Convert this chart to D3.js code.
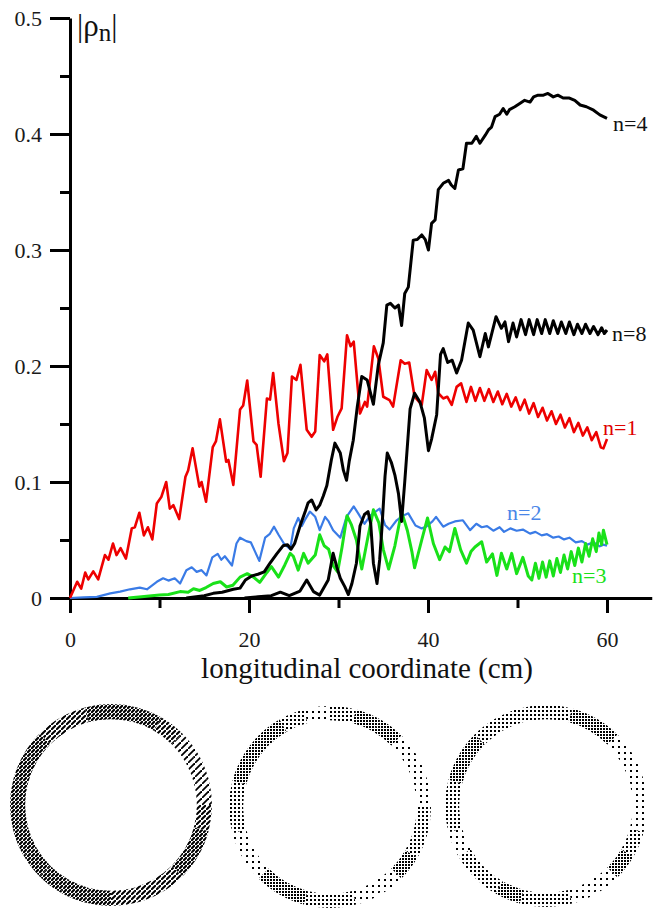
<!DOCTYPE html>
<html>
<head>
<meta charset="utf-8">
<script src="https://cdn.jsdelivr.net/npm/d3@7"></script>
<style>
body { margin: 0; background: #fff; }
svg { display: block; font-family: "Liberation Serif", "Times New Roman", serif; }
svg text { font-family: "Liberation Serif", "Times New Roman", serif; }
</style>
</head>
<body>
<div id="chart"></div>
<script>
// axis ticks
const xTicksMajor = [0, 20, 40, 60];
const xTicksMinor = [10, 30, 50];
const yTicksMajor = [0, 0.1, 0.2, 0.3, 0.4, 0.5];
const yTicksMinor = [0.05, 0.15, 0.25, 0.35, 0.45];

// |rho_n| vs longitudinal coordinate (cm)
const n1Pts = [[0,0],[0.8,0.014],[1.25,0.008],[1.7,0.022],[2.05,0.016],[2.6,0.023],[3.15,0.016],[3.9,0.037],[4.3,0.033],[4.8,0.047],[5.2,0.037],[5.65,0.043],[6.25,0.034],[6.9,0.06],[7.25,0.061],[7.75,0.0735],[8.25,0.054],[8.7,0.061],[9.2,0.0505],[9.7,0.0815],[10.2,0.087],[10.75,0.1],[11.15,0.077],[11.55,0.08],[12.2,0.068],[12.9,0.1045],[13.2,0.11],[13.7,0.129],[14.45,0.096],[14.7,0.1],[15.2,0.083],[15.95,0.13],[16.3,0.135],[16.75,0.154],[17.45,0.1175],[17.7,0.119],[18.25,0.0975],[19.0,0.1625],[19.35,0.166],[19.8,0.1875],[20.5,0.135],[20.85,0.132],[21.3,0.1045],[22.0,0.172],[22.35,0.171],[22.7,0.194],[23.3,0.15],[23.9,0.118],[24.3,0.125],[24.8,0.191],[25.3,0.188],[25.75,0.201],[26.45,0.145],[27.0,0.139],[27.4,0.1435],[27.9,0.2095],[28.4,0.204],[28.75,0.21],[29.4,0.145],[29.9,0.1565],[30.35,0.1635],[30.95,0.2265],[31.35,0.217],[31.7,0.221],[32.4,0.159],[32.95,0.169],[33.2,0.165],[33.95,0.217],[34.45,0.2065],[35.0,0.1735],[35.7,0.1705],[36.1,0.165],[36.95,0.205],[37.4,0.202],[37.9,0.203],[38.5,0.1735],[39.3,0.1665],[39.85,0.1965],[40.4,0.188],[40.8,0.195],[41.15,0.1765],[41.7,0.172],[42.15,0.1735],[42.65,0.1665],[43.2,0.182],[43.7,0.185],[44.3,0.169],[44.8,0.182],[45.3,0.17],[45.8,0.181],[46.3,0.17],[46.8,0.18],[47.3,0.169],[47.8,0.178],[48.3,0.167],[48.8,0.176],[49.3,0.165],[49.8,0.173],[50.3,0.162],[50.8,0.171],[51.3,0.159],[51.8,0.168],[52.3,0.156],[52.8,0.164],[53.3,0.153],[53.8,0.161],[54.3,0.15],[54.8,0.158],[55.3,0.147],[55.8,0.155],[56.3,0.143],[56.8,0.151],[57.3,0.14],[57.8,0.147],[58.3,0.136],[58.8,0.143],[59.3,0.13],[59.6,0.129],[60.0,0.137]];

const n2Pts = [[0,0],[1.5,0.0005],[3,0.001],[4.5,0.004],[5.6,0.0055],[6.7,0.0075],[7.8,0.009],[8.6,0.0075],[9.7,0.014],[10.4,0.017],[11.0,0.015],[11.7,0.017],[12.3,0.0125],[13.0,0.024],[13.6,0.0265],[14.15,0.0225],[14.7,0.024],[15.25,0.0195],[15.9,0.035],[16.5,0.038],[16.9,0.033],[17.3,0.036],[18.1,0.028],[18.6,0.047],[19.0,0.052],[19.7,0.049],[20.2,0.048],[21.15,0.032],[21.8,0.052],[22.3,0.055],[22.8,0.0615],[23.3,0.0545],[23.9,0.047],[24.6,0.042],[25.0,0.06],[25.5,0.069],[25.9,0.062],[26.3,0.068],[26.8,0.0745],[27.4,0.07],[27.9,0.0585],[28.5,0.07],[28.9,0.066],[29.4,0.0585],[30.2,0.052],[30.9,0.07],[31.7,0.079],[32.2,0.073],[32.9,0.064],[33.6,0.0715],[34.6,0.077],[35.2,0.063],[35.7,0.059],[36.5,0.067],[37.2,0.071],[37.8,0.073],[38.6,0.0625],[39.3,0.06],[39.8,0.0615],[40.5,0.066],[40.9,0.07],[41.7,0.0615],[42.3,0.064],[43.0,0.066],[43.9,0.067],[44.7,0.0585],[45.4,0.064],[46.0,0.061],[46.6,0.062],[47.3,0.058],[48.0,0.061],[48.5,0.057],[49.2,0.06],[49.9,0.058],[50.6,0.059],[51.4,0.0555],[52.0,0.057],[52.7,0.054],[53.3,0.055],[54.0,0.052],[54.6,0.053],[55.2,0.0505],[55.8,0.052],[56.5,0.048],[57.2,0.049],[57.8,0.046],[58.5,0.048],[59.2,0.0445],[59.6,0.046],[60.0,0.045]];

const n3Pts = [[6.5,0],[8,0.001],[10,0.0025],[11,0.003],[12.3,0.0055],[13.2,0.005],[13.8,0.008],[14.5,0.0065],[15.2,0.009],[16.0,0.0125],[16.8,0.014],[17.5,0.0095],[18.2,0.011],[19.0,0.018],[19.8,0.021],[20.5,0.018],[21.2,0.0135],[22.0,0.022],[22.5,0.027],[23.3,0.018],[24.0,0.0285],[24.6,0.0385],[24.95,0.036],[25.5,0.024],[26.1,0.0385],[26.6,0.03],[27.4,0.037],[27.9,0.0545],[28.4,0.045],[28.9,0.042],[29.4,0.028],[29.9,0.0225],[30.4,0.044],[30.95,0.071],[31.45,0.063],[32.0,0.05],[32.6,0.025],[33.3,0.053],[33.9,0.076],[34.5,0.065],[35.0,0.042],[35.6,0.025],[36.3,0.045],[37.05,0.0745],[37.7,0.058],[38.2,0.04],[38.5,0.026],[39.3,0.05],[39.95,0.069],[40.6,0.047],[41.3,0.033],[41.9,0.044],[42.4,0.04],[43.0,0.06],[43.65,0.0415],[44.3,0.03],[44.8,0.04],[45.25,0.044],[46.0,0.0485],[46.55,0.031],[47.2,0.038],[47.7,0.0195],[48.2,0.0385],[48.8,0.025],[49.35,0.0385],[49.9,0.021],[50.6,0.035],[51.2,0.019],[51.6,0.0155],[52.0,0.03],[52.4,0.017],[52.8,0.031],[53.2,0.018],[53.6,0.032],[54.0,0.019],[54.4,0.034],[54.8,0.022],[55.2,0.037],[55.6,0.025],[56.0,0.04],[56.4,0.028],[56.8,0.043],[57.2,0.031],[57.6,0.047],[58.0,0.036],[58.4,0.051],[58.8,0.04],[59.1,0.056],[59.4,0.046],[59.6,0.0585],[60.0,0.046]];

const n4Pts = [[13,0],[15,0.002],[16,0.004],[17,0.005],[18.25,0.0075],[19.0,0.0085],[19.6,0.0155],[20.3,0.019],[21.0,0.0205],[21.7,0.0225],[22.35,0.03],[23.1,0.038],[23.8,0.045],[24.3,0.046],[24.7,0.042],[25.1,0.047],[25.7,0.062],[26.3,0.075],[26.6,0.082],[27.0,0.0845],[27.5,0.076],[27.9,0.08],[28.3,0.088],[28.7,0.097],[29.2,0.119],[29.6,0.1335],[30.2,0.125],[30.55,0.11],[30.9,0.1015],[31.2,0.118],[31.65,0.136],[32.1,0.165],[32.6,0.191],[33.2,0.188],[33.9,0.167],[34.45,0.201],[35.0,0.22],[35.4,0.2525],[35.8,0.254],[36.3,0.25],[36.7,0.2525],[37.05,0.235],[37.4,0.2625],[37.8,0.268],[38.35,0.3085],[38.8,0.309],[39.3,0.313],[39.7,0.309],[40.05,0.3],[40.4,0.323],[40.8,0.326],[41.15,0.352],[41.7,0.3575],[42.3,0.36],[42.6,0.356],[43.0,0.353],[43.4,0.369],[43.9,0.37],[44.3,0.392],[44.9,0.392],[45.4,0.398],[45.8,0.392],[46.4,0.399],[46.75,0.4035],[47.1,0.406],[47.5,0.415],[48.0,0.417],[48.4,0.422],[48.8,0.417],[49.1,0.421],[49.7,0.4235],[50.3,0.4265],[50.8,0.429],[51.4,0.4275],[51.8,0.432],[52.3,0.4335],[52.9,0.4335],[53.4,0.435],[54.0,0.432],[54.5,0.4335],[55.1,0.431],[55.8,0.431],[56.4,0.429],[57.0,0.425],[57.7,0.4235],[58.5,0.4205],[59.2,0.4165],[60.0,0.4135]];

const n8Pts = [[19.5,0],[21,0.001],[22.5,0.002],[23.5,0.005],[24.5,0.002],[25.7,0.006],[26.45,0.0155],[27.2,0.0055],[27.9,0.0025],[28.85,0.0155],[29.4,0.0385],[29.8,0.027],[30.2,0.017],[30.7,0.0098],[31.1,0.003],[31.5,0.0125],[32.0,0.03],[32.4,0.062],[32.9,0.072],[33.3,0.0745],[33.6,0.064],[33.9,0.03],[34.3,0.0125],[34.6,0.033],[34.85,0.06],[35.2,0.105],[35.45,0.125],[35.9,0.117],[36.3,0.106],[36.7,0.09],[37.05,0.066],[37.4,0.1],[38.0,0.163],[38.5,0.1765],[39.1,0.169],[39.6,0.155],[40.05,0.127],[40.4,0.137],[40.97,0.158],[41.4,0.21],[41.7,0.215],[42.2,0.203],[42.7,0.205],[43.2,0.194],[43.75,0.205],[44.5,0.237],[45.05,0.231],[45.8,0.208],[46.4,0.228],[46.75,0.2165],[47.6,0.2425],[48.2,0.2325],[48.6,0.238],[49.0,0.221],[49.5,0.237],[49.9,0.225],[50.4,0.24],[50.9,0.227],[51.3,0.24],[51.8,0.227],[52.2,0.24],[52.7,0.228],[53.1,0.24],[53.6,0.228],[54.0,0.239],[54.5,0.228],[54.9,0.238],[55.4,0.228],[55.8,0.238],[56.3,0.227],[56.7,0.236],[57.2,0.228],[57.6,0.236],[58.1,0.228],[58.5,0.234],[59.0,0.227],[59.4,0.233],[59.7,0.228],[60.0,0.231]];

// transverse particle snapshots: density of each 15 degree sector (0 = top, clockwise)
const ringAngles = [0,15,30,45,60,75,90,105,120,135,150,165,180,195,210,225,240,255,270,285,300,315,330,345];
const ring1Density = [3,3,2,1,1,1,2,3,3,2,2,2,3,3,3,3,3,3,3,3,3,2,2,3];
const ring2Density = [2,3,3,1,1,1,2,2,3,1,1,2,2,3,3,1,1,2,2,3,3,3,2,1];
const ring3Density = [2,3,3,1,1,1,1,2,3,1,1,2,2,3,2,2,1,2,2,3,3,2,2,2];

const SERIF = "Liberation Serif, Times New Roman, serif";

class ModeChart {
    constructor(id) {
        this.parent = d3.select(`#${id}`);
    }

    init() {
        this.width = 653;
        this.height = 912;
        this.svg = this.parent.append("svg")
            .attr("width", this.width)
            .attr("height", this.height);

        this.x = d3.scaleLinear().domain([0, 65]).range([70, 651.75]);
        this.y = d3.scaleLinear().domain([0, 0.5]).range([598, 18]);
        this.defs = this.svg.append("defs");
        this.makePatterns();
        return this.draw();
    }

    makePatterns() {
        // hatch for the first snapshot, dots for the other two
        const hatch = [["h3", 4, 2.2], ["h2", 5, 2], ["h1", 7, 1.8]];
        hatch.forEach(([id, s, w]) => {
            this.defs.append("pattern")
                .attr("id", id).attr("patternUnits", "userSpaceOnUse")
                .attr("width", s).attr("height", s)
                .append("path")
                .attr("d", `M0,${s} L${s},0`)
                .attr("stroke", "#000").attr("stroke-width", w);
        });
        const dots = [["d3", 3], ["d2", 4], ["d1", 6]];
        dots.forEach(([id, s]) => {
            this.defs.append("pattern")
                .attr("id", id).attr("patternUnits", "userSpaceOnUse")
                .attr("width", s).attr("height", s)
                .append("rect")
                .attr("width", 2).attr("height", 2)
                .attr("shape-rendering", "crispEdges")
                .attr("fill", "#000");
        });
    }

    draw() {
        const self = this;
        const g = self.svg.append("g");

        // minor ticks first
        g.append("g")
            .attr("transform", `translate(${self.x(0)},0)`)
            .call(d3.axisLeft(self.y).tickValues(yTicksMinor).tickSize(10).tickFormat(""))
            .call(a => a.select(".domain").remove());
        g.append("g")
            .attr("transform", `translate(0,${self.y(0)})`)
            .call(d3.axisBottom(self.x).tickValues(xTicksMinor).tickSize(10).tickFormat(""))
            .call(a => a.select(".domain").remove());

        g.append("g")
            .attr("transform", `translate(${self.x(0)},0)`)
            .call(d3.axisLeft(self.y)
                .tickValues(yTicksMajor)
                .tickSize(20)
                .tickSizeOuter(0)
                .tickPadding(8)
                .tickFormat(d => d === 0 ? "0" : d3.format(".1f")(d)));
        g.append("g")
            .attr("transform", `translate(0,${self.y(0)})`)
            .call(d3.axisBottom(self.x)
                .tickValues(xTicksMajor)
                .tickSize(15)
                .tickSizeOuter(0)
                .tickPadding(18)
                .tickFormat(d3.format("d")));

        g.selectAll("g").attr("font-family", SERIF);
        g.selectAll(".domain, .tick line")
            .attr("stroke", "#000")
            .attr("stroke-width", 3);
        g.selectAll(".tick text")
            .style("font-family", SERIF)
            .attr("font-size", 22)
            .attr("fill", "#1a1a1a");

        // curves
        const line = d3.line()
            .x(d => self.x(d[0]))
            .y(d => self.y(d[1]));
        const series = [
            {data: n2Pts, color: "#3a7be6", w: 2.2},
            {data: n3Pts, color: "#19e119", w: 3},
            {data: n1Pts, color: "#ee0000", w: 2.6},
            {data: n8Pts, color: "#000", w: 3},
            {data: n4Pts, color: "#000", w: 3}
        ];
        g.selectAll(".curve")
            .data(series).enter()
            .append("path")
            .attr("class", "curve")
            .attr("fill", "none")
            .attr("stroke", d => d.color)
            .attr("stroke-width", d => d.w)
            .attr("stroke-linejoin", "round")
            .attr("d", d => line(d.data));

        const labels = [
            {t: "n=4", x: 613, y: 131, c: "#111"},
            {t: "n=8", x: 612, y: 341, c: "#111"},
            {t: "n=1", x: 603, y: 435, c: "#e00000"},
            {t: "n=2", x: 507, y: 520, c: "#4a86e8"},
            {t: "n=3", x: 572, y: 583, c: "#19e119"}
        ];
        g.selectAll(".lbl")
            .data(labels).enter()
            .append("text")
            .attr("x", d => d.x).attr("y", d => d.y)
            .attr("font-size", 22)
            .attr("fill", d => d.c)
            .text(d => d.t);

        // axis titles
        const yl = g.append("text")
            .attr("x", 77).attr("y", 36)
            .attr("font-size", 31)
            .attr("fill", "#111");
        yl.append("tspan").text("|ρ");
        yl.append("tspan").attr("font-size", 25).attr("dy", 5).text("n");
        yl.append("tspan").attr("dy", -5).text("|");

        g.append("text")
            .attr("x", 367).attr("y", 678)
            .attr("text-anchor", "middle")
            .attr("font-size", 29)
            .attr("fill", "#111")
            .text("longitudinal coordinate (cm)");

        // snapshots below
        const r = d3.scaleLinear().domain([0, 1]).range([0, 101]);
        const rad = d => d * Math.PI / 180;
        const rings = [
            {cx: 111, cy: 805, dens: ring1Density, band: [0.85, 1.0], pat: "h"},
            {cx: 330, cy: 807, dens: ring2Density, band: [0.86, 1.0], pat: "d"},
            {cx: 546, cy: 806, dens: ring3Density, band: [0.86, 1.0], pat: "d"}
        ];
        rings.forEach(ring => {
            const arc = d3.arc()
                .innerRadius(r(ring.band[0]))
                .outerRadius(r(ring.band[1]))
                .startAngle(d => rad(d.a))
                .endAngle(d => rad(d.a + 15));
            const cells = ringAngles.map((a, i) => ({a: a, k: ring.dens[i]}));
            self.svg.append("g")
                .attr("transform", `translate(${ring.cx},${ring.cy})`)
                .selectAll("path")
                .data(cells).enter()
                .append("path")
                .attr("d", arc)
                .attr("fill", d => `url(#${ring.pat}${d.k})`);
        });
    }
}

const chart = new ModeChart("chart");
chart.init();
</script>
</body>
</html>
